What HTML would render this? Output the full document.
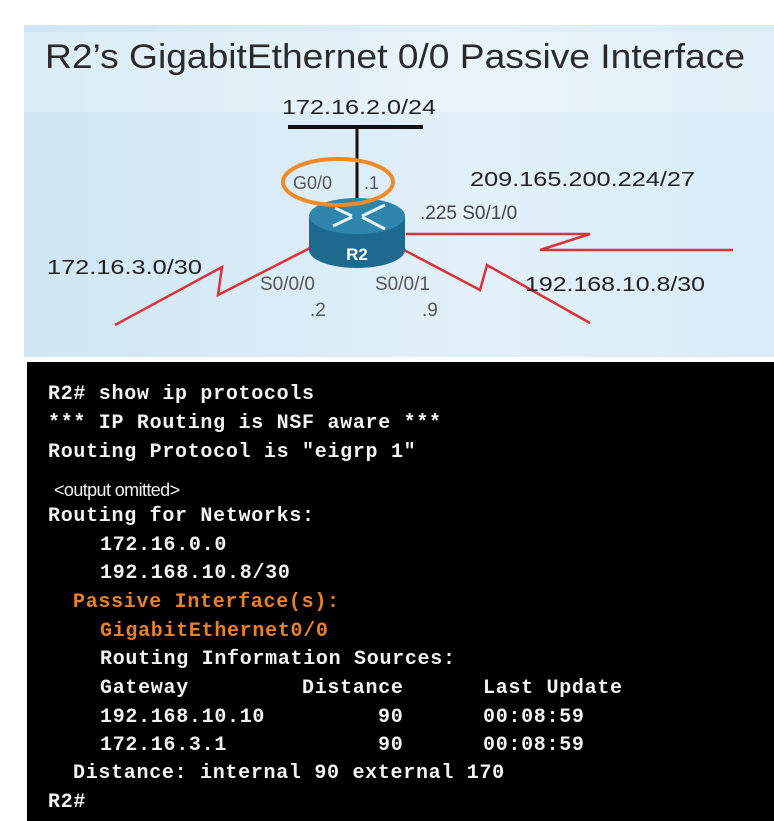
<!DOCTYPE html>
<html><head><meta charset="utf-8"><style>
body{margin:0;width:774px;height:821px;background:#fff;position:relative;overflow:hidden;font-family:"Liberation Sans",sans-serif}
.t{position:absolute;white-space:pre;font-family:"Liberation Mono",monospace;font-weight:bold;font-size:20px;letter-spacing:0.7px;color:#f2f2f2;line-height:20px}
.o{color:#e8822a}
</style></head><body>
<div style="position:absolute;left:24px;top:25px;width:750px;height:332px;background:linear-gradient(90deg,#cfe6f4,#e2f0f9 60%,#d9ecf7)"></div>
<div style="position:absolute;left:24px;top:32px;width:750px;height:80px;background:rgba(255,255,255,0.25)"></div>
<svg style="position:absolute;left:0;top:0" width="774" height="360">
<text x="45" y="68" font-size="34" fill="#2a2a2a" font-family="Liberation Sans" textLength="700" lengthAdjust="spacingAndGlyphs">R2’s GigabitEthernet 0/0 Passive Interface</text>
<text x="282" y="114" font-size="20" fill="#222" textLength="154" lengthAdjust="spacingAndGlyphs">172.16.2.0/24</text>
<line x1="288" y1="127" x2="423" y2="127" stroke="#111" stroke-width="4"/>
<line x1="357" y1="127" x2="357" y2="210" stroke="#111" stroke-width="3"/>
<polyline points="406,234 590,234 540,250 733,250" fill="none" stroke="#d9333b" stroke-width="2.5"/>
<polyline points="115,325 222,267 218,295 310,248" fill="none" stroke="#d9333b" stroke-width="2.5"/>
<polyline points="404,250 480,290 487,265 590,323" fill="none" stroke="#d9333b" stroke-width="2.5"/>
<path d="M309,216 L309,250 A48,18 0 0 0 405,250 L405,216 Z" fill="#1d6a8e"/>
<ellipse cx="357" cy="216" rx="48" ry="18" fill="#2f86ad"/>
<g stroke="#e8f2f8" stroke-width="3"><line x1="335" y1="208" x2="352" y2="216"/><line x1="362" y1="216" x2="385" y2="205"/><line x1="333" y1="226" x2="352" y2="217"/><line x1="362" y1="217" x2="385" y2="229"/></g>
<text x="357" y="260" font-size="17" font-weight="bold" fill="#fff" text-anchor="middle">R2</text>
<ellipse cx="338" cy="182" rx="55" ry="23" fill="none" stroke="#ef8a2a" stroke-width="4"/>
<text x="293" y="189" font-size="18" fill="#555">G0/0</text>
<text x="364" y="189" font-size="18" fill="#555">.1</text>
<text x="470" y="186" font-size="20" fill="#222" textLength="225" lengthAdjust="spacingAndGlyphs">209.165.200.224/27</text>
<text x="420" y="219" font-size="19" fill="#444">.225  S0/1/0</text>
<text x="47" y="274" font-size="20" fill="#222" textLength="155" lengthAdjust="spacingAndGlyphs">172.16.3.0/30</text>
<text x="260" y="290" font-size="19" fill="#555">S0/0/0</text>
<text x="310" y="316" font-size="19" fill="#555">.2</text>
<text x="375" y="290" font-size="19" fill="#555">S0/0/1</text>
<text x="422" y="316" font-size="19" fill="#555">.9</text>
<text x="525" y="291" font-size="20" fill="#222" textLength="180" lengthAdjust="spacingAndGlyphs">192.168.10.8/30</text>
</svg>
<div style="position:absolute;left:27px;top:362px;width:747px;height:459px;background:#000"></div>
<div class="t" style="left:48px;top:385px">R2# show ip protocols</div>
<div class="t" style="left:48px;top:414px">*** IP Routing is NSF aware ***</div>
<div class="t" style="left:48px;top:443px">Routing Protocol is "eigrp 1"</div>
<div class="t" style="left:54px;top:480px;font-family:'Liberation Sans',sans-serif;font-weight:normal;font-size:18px;letter-spacing:-0.6px">&lt;output omitted&gt;</div>
<div class="t" style="left:48px;top:507px">Routing for Networks:</div>
<div class="t" style="left:100px;top:536px">172.16.0.0</div>
<div class="t" style="left:100px;top:564px">192.168.10.8/30</div>
<div class="t o" style="left:73px;top:593px">Passive Interface(s):</div>
<div class="t o" style="left:100px;top:622px">GigabitEthernet0/0</div>
<div class="t" style="left:100px;top:650px">Routing Information Sources:</div>
<div class="t" style="left:100px;top:679px">Gateway</div>
<div class="t" style="left:302px;top:679px">Distance</div>
<div class="t" style="left:483px;top:679px">Last Update</div>
<div class="t" style="left:100px;top:708px">192.168.10.10</div>
<div class="t" style="left:378px;top:708px">90</div>
<div class="t" style="left:483px;top:708px">00:08:59</div>
<div class="t" style="left:100px;top:736px">172.16.3.1</div>
<div class="t" style="left:378px;top:736px">90</div>
<div class="t" style="left:483px;top:736px">00:08:59</div>
<div class="t" style="left:73px;top:764px">Distance: internal 90 external 170</div>
<div class="t" style="left:48px;top:793px">R2#</div>
</body></html>
